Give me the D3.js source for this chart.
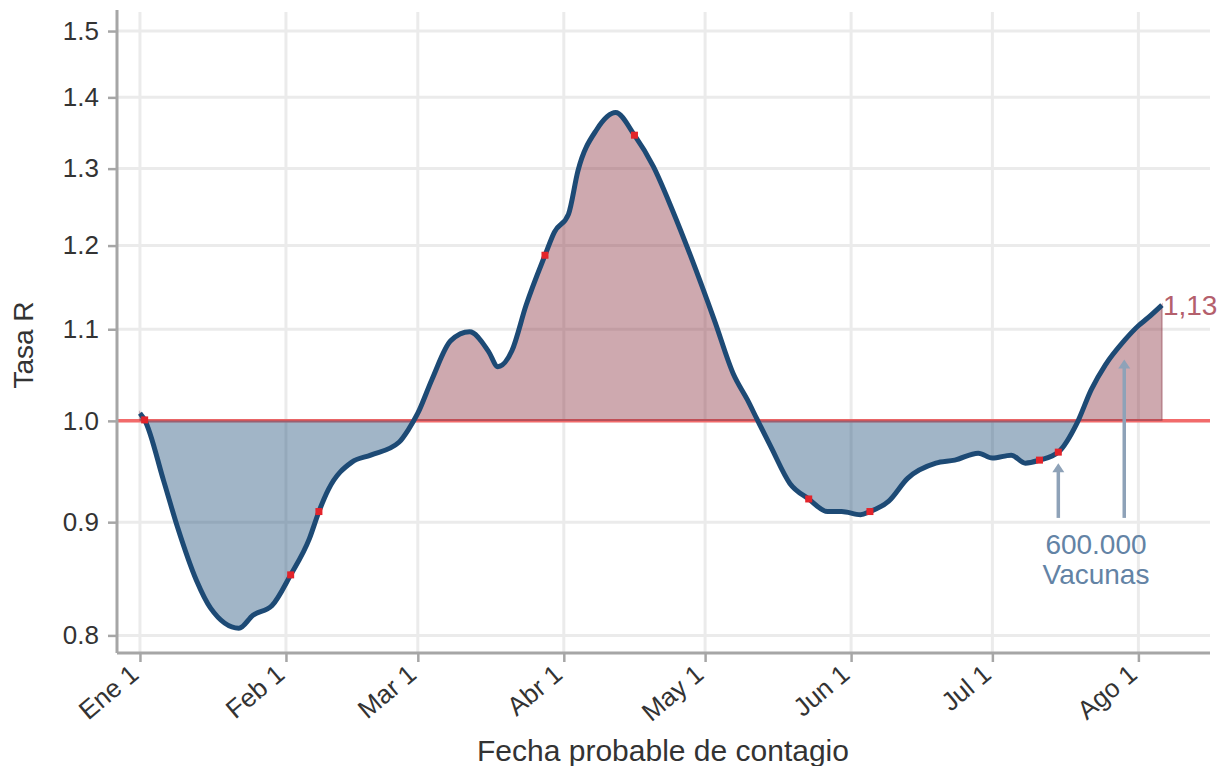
<!DOCTYPE html>
<html>
<head>
<meta charset="utf-8">
<script src="https://cdn.jsdelivr.net/npm/d3@7"></script>
<style>
  body { margin: 0; background: #fff; }
  svg { display: block; font-family: "Liberation Sans", Arial, sans-serif; }
</style>
</head>
<body>
<svg id="chart"></svg>
<script>
// daily R estimate
const dates = ["2021-01-01","2021-01-02","2021-01-06","2021-01-09","2021-01-13","2021-01-16","2021-01-22","2021-01-25","2021-01-29",
  "2021-02-02","2021-02-06","2021-02-08","2021-02-10","2021-02-15","2021-02-19","2021-02-25","2021-02-27",
  "2021-03-01","2021-03-04","2021-03-08","2021-03-12","2021-03-16","2021-03-18","2021-03-21","2021-03-24","2021-03-28","2021-03-30",
  "2021-04-02","2021-04-04","2021-04-08","2021-04-12","2021-04-16","2021-04-20","2021-04-24","2021-04-28",
  "2021-05-03","2021-05-07","2021-05-10","2021-05-12","2021-05-15","2021-05-19","2021-05-23","2021-05-27","2021-05-30",
  "2021-06-03","2021-06-05","2021-06-09","2021-06-13","2021-06-19","2021-06-23","2021-06-28",
  "2021-07-01","2021-07-05","2021-07-08","2021-07-11","2021-07-15","2021-07-19","2021-07-22","2021-07-25","2021-07-29",
  "2021-08-01","2021-08-03","2021-08-06"];
const rValues = [1.008,1.001,0.940,0.895,0.847,0.823,0.806,0.817,0.825,
  0.852,0.885,0.910,0.931,0.958,0.965,0.978,0.991,
  1.008,1.044,1.087,1.097,1.075,1.058,1.076,1.128,1.188,1.217,
  1.240,1.297,1.354,1.378,1.346,1.303,1.246,1.186,
  1.110,1.050,1.022,1.002,0.973,0.937,0.922,0.910,0.910,
  0.907,0.910,0.920,0.942,0.957,0.960,0.967,
  0.962,0.965,0.957,0.960,0.968,0.998,1.033,1.060,1.087,
  1.104,1.113,1.128];

// highlighted days
const markDates = ["2021-01-02","2021-02-02","2021-02-08","2021-03-28","2021-04-16","2021-05-23","2021-06-05","2021-07-11","2021-07-15"];
const markValues = [1.001,0.852,0.910,1.188,1.346,0.922,0.910,0.960,0.968];

// vaccine arrows
const arrowDates = ["2021-07-15","2021-07-29"];
const arrowFrom = [0.904,0.904];
const arrowTo = [0.957,1.066];

const yTicks = [0.8,0.9,1.0,1.1,1.2,1.3,1.4,1.5];
const monthTicks = ["2021-01-01","2021-02-01","2021-03-01","2021-04-01","2021-05-01","2021-06-01","2021-07-01","2021-08-01"];
const monthLabels = ["Ene 1","Feb 1","Mar 1","Abr 1","May 1","Jun 1","Jul 1","Ago 1"];

const parse = d3.timeParse("%Y-%m-%d");
const data = dates.map((d, i) => ({ date: parse(d), value: rValues[i] }));
const marks = markDates.map((d, i) => ({ date: parse(d), value: markValues[i] }));

const W = 1226, H = 766;
const pLeft = 117, pRight = 1210, pTop = 12, pBottom = 653;

const svg = d3.select("#chart").attr("width", W).attr("height", H);

const x = d3.scaleTime()
  .domain([new Date(2020, 11, 27, 3), new Date(2021, 7, 16, 5)])
  .range([pLeft, pRight]);
const y = d3.scaleLog()
  .domain([0.7855, 1.530])
  .range([pBottom, pTop]);

// grid
const grid = svg.append("g").attr("stroke", "#ebebeb").attr("stroke-width", 3);
grid.selectAll(".gy").data(yTicks).join("line")
  .attr("x1", pLeft).attr("x2", pRight)
  .attr("y1", d => y(d)).attr("y2", d => y(d));
grid.selectAll(".gx").data(monthTicks).join("line")
  .attr("x1", d => x(parse(d))).attr("x2", d => x(parse(d)))
  .attr("y1", pTop).attr("y2", pBottom);

// reference line R = 1
svg.append("line")
  .attr("x1", pLeft).attr("x2", pRight)
  .attr("y1", y(1)).attr("y2", y(1))
  .attr("stroke", "#f26b6b").attr("stroke-width", 3.5);

// areas above / below 1
const area = d3.area()
  .x(d => x(d.date))
  .y0(y(1))
  .y1(d => y(d.value))
  .curve(d3.curveMonotoneX);

const defs = svg.append("defs");
defs.append("clipPath").attr("id", "above")
  .append("rect").attr("x", 0).attr("y", 0).attr("width", W).attr("height", y(1));
defs.append("clipPath").attr("id", "below")
  .append("rect").attr("x", 0).attr("y", y(1)).attr("width", W).attr("height", H);

svg.append("path").datum(data)
  .attr("clip-path", "url(#above)")
  .attr("fill", "#8a3341").attr("fill-opacity", 0.42)
  .attr("stroke", "#8a3341").attr("stroke-opacity", 0.35).attr("stroke-width", 2)
  .attr("d", area);
svg.append("path").datum(data)
  .attr("clip-path", "url(#below)")
  .attr("fill", "#1f4e79").attr("fill-opacity", 0.42)
  .attr("d", area);

// R line
const line = d3.line()
  .x(d => x(d.date))
  .y(d => y(d.value))
  .curve(d3.curveMonotoneX);
svg.append("path").datum(data)
  .attr("fill", "none")
  .attr("stroke", "#1d4a75")
  .attr("stroke-width", 5)
  .attr("stroke-linejoin", "round")
  .attr("d", line);

// red marks
svg.selectAll(".mark").data(marks).join("rect")
  .attr("x", d => x(d.date) - 3.5).attr("y", d => y(d.value) - 3.5)
  .attr("width", 7).attr("height", 7)
  .attr("fill", "#e3242b");

// arrows
const arrowColor = "#8ea2b8";
arrowDates.forEach((d, i) => {
  const ax = x(parse(d));
  svg.append("line")
    .attr("x1", ax).attr("x2", ax)
    .attr("y1", y(arrowFrom[i])).attr("y2", y(arrowTo[i]) + 6)
    .attr("stroke", arrowColor).attr("stroke-width", 3.5);
  svg.append("path")
    .attr("d", `M${ax - 6},${y(arrowTo[i]) + 9}L${ax},${y(arrowTo[i])}L${ax + 6},${y(arrowTo[i]) + 9}Z`)
    .attr("fill", arrowColor);
});

svg.append("text")
  .attr("x", x(parse("2021-07-23"))).attr("y", 554)
  .attr("text-anchor", "middle").attr("font-size", 28).attr("fill", "#6383a5")
  .text("600.000");
svg.append("text")
  .attr("x", x(parse("2021-07-23"))).attr("y", 584)
  .attr("text-anchor", "middle").attr("font-size", 28).attr("fill", "#6383a5")
  .text("Vacunas");

// last value label
const last = data[data.length - 1];
svg.append("text")
  .attr("x", x(last.date) + 1).attr("y", y(last.value) + 10)
  .attr("font-size", 28).attr("fill", "#b4606c")
  .text(d3.format(".2f")(last.value).replace(".", ","));

// axes
const axisColor = "#a6a6a6";
const yAxis = svg.append("g")
  .attr("transform", `translate(${pLeft},0)`)
  .call(d3.axisLeft(y).tickValues(yTicks).tickFormat(d3.format(".1f")).tickSize(9).tickPadding(9));
const xAxis = svg.append("g")
  .attr("transform", `translate(0,${pBottom})`)
  .call(d3.axisBottom(x).tickValues(monthTicks.map(parse)).tickFormat((d, i) => monthLabels[i]).tickSize(9));

[yAxis, xAxis].forEach(a => {
  a.select(".domain").attr("stroke", axisColor).attr("stroke-width", 3);
  a.selectAll(".tick line").attr("stroke", axisColor).attr("stroke-width", 2.5);
  a.selectAll("text").attr("fill", "#333").attr("font-size", 26)
    .attr("font-family", "Liberation Sans, Arial, sans-serif");
});
yAxis.select(".domain").attr("d", `M0,${pTop - 2}V${pBottom}`);
xAxis.select(".domain").attr("d", `M${pLeft},0H${pRight}`);

xAxis.selectAll(".tick text")
  .attr("text-anchor", "end")
  .attr("y", 0)
  .attr("dy", "0.35em")
  .attr("transform", "translate(-6,17) rotate(-40)");

// axis titles
svg.append("text")
  .attr("x", 663).attr("y", 761)
  .attr("text-anchor", "middle").attr("font-size", 30).attr("fill", "#333")
  .text("Fecha probable de contagio");
svg.append("text")
  .attr("transform", "translate(33,345) rotate(-90)")
  .attr("text-anchor", "middle").attr("font-size", 28).attr("fill", "#333")
  .text("Tasa R");
</script>
</body>
</html>
